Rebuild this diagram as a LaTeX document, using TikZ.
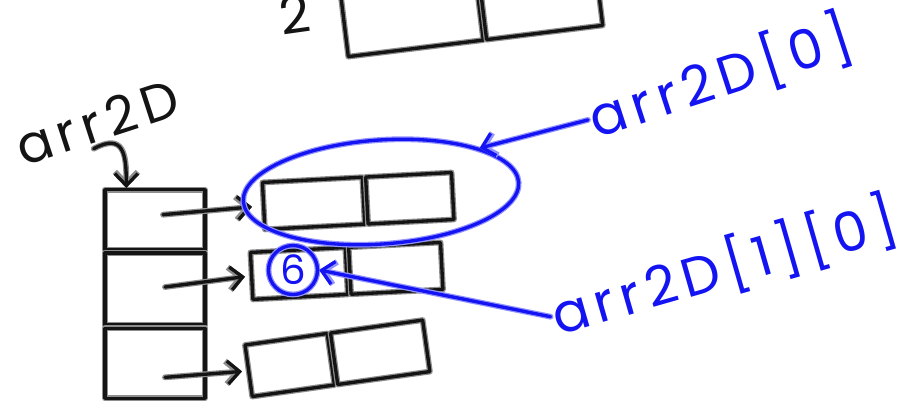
\documentclass[tikz,border=0pt]{standalone}
\usepackage{fontspec}
\setmainfont{Poppins}
\newfontfamily\hand[LetterSpace=12]{Poppins}
\usetikzlibrary{positioning, arrows.meta, calc, shapes.geometric}
\definecolor{penink}{HTML}{141414}
\definecolor{penhalo}{HTML}{8E8E8E}
\definecolor{penblue}{HTML}{1414F2}
\definecolor{bluehalo}{HTML}{9494FF}

\begin{document}
\begin{tikzpicture}[
  x=0.2mm, y=-0.2mm,
  line cap=round, line join=round,
  >={Straight Barb[length=2.4mm, width=4.6mm]},
  ink/.style  = {draw=penink, line width=1.9pt,
                 preaction={draw=penhalo, line width=3.3pt}},
  bink/.style = {draw=penblue, line width=1.9pt,
                 preaction={draw=bluehalo, line width=3.3pt}},
  cell/.style = {ink, rectangle, inner sep=0pt},
  blacktxt/.style = {font=\hand\fontsize{30}{34}\selectfont, text=penink, inner sep=1pt},
  bluetxt/.style  = {font=\hand\fontsize{31}{35}\selectfont, text=penblue, inner sep=1pt}
]
\useasboundingbox (0,0) rectangle (907,404);
\clip (0,0) rectangle (907,404);

% row cut off at the top
\node[cell, minimum width=27.2mm, minimum height=20mm, rotate=7, anchor=south]
  (topa) at (416,50) {};
\node[cell, minimum width=23.4mm, minimum height=20mm, rotate=7, right=0pt of topa]
  (topb) {};
\node[blacktxt, anchor=base, rotate=8] (idx2) at (298,33) {2};

% pointer array
\node[blacktxt, rotate=18] (arrname) at (97,122) {arr2D};
\node[cell, minimum width=20mm, minimum height=12mm, anchor=north] (ptr0) at (155,188) {};
\node[cell, minimum width=20mm, minimum height=14.4mm, below=0pt of ptr0] (ptr1) {};
\node[cell, minimum width=20mm, minimum height=14mm, below=0pt of ptr1] (ptr2) {};
\draw[ink, ->] ($(arrname.south)+(-10,6)$) .. controls +(30,-16) and +(0,-34) .. ($(ptr0.north west)+(23,0)$);

% rows
\node[cell, minimum width=20mm, minimum height=9.4mm, rotate=3, anchor=west] (r0a) at (262,206) {};
\node[cell, minimum width=17.2mm, minimum height=9.4mm, rotate=3, right=0pt of r0a] (r0b) {};
\node[cell, minimum width=19mm, minimum height=9.4mm, rotate=3, anchor=west] (r1a) at (250,276) {};
\node[cell, minimum width=18.4mm, minimum height=9.4mm, rotate=3, right=0pt of r1a] (r1b) {};
\node[cell, minimum width=16.6mm, minimum height=10.4mm, rotate=8, anchor=west] (r2a) at (247,371) {};
\node[cell, minimum width=18.6mm, minimum height=10.4mm, rotate=8, right=0pt of r2a] (r2b) {};

\draw[ink, ->, shorten >=2mm] ($(ptr0.center)+(8,-5)$) -- (r0a.west);
\draw[ink, ->, shorten >=1mm] ($(ptr1.center)+(10,-2)$) -- (r1a.west);
\draw[ink, ->, shorten >=1mm] ($(ptr2.center)+(10,14)$) -- (r2a.west);

% blue notes
\node[bink, ellipse, minimum width=55.2mm, minimum height=20.8mm, rotate=4] (sel0) at (381,192) {};
\node[bluetxt, rotate=18] (lbl0) at (720,77) {arr2D[0]};
\draw[bink, ->] (lbl0.west) -- (sel0.20);

\node[bink, circle, minimum size=9.8mm, inner sep=0pt, text=penblue,
      font=\fontsize{23}{25}\selectfont] (six) at (293,270) {6};
\node[bluetxt, rotate=16] (lbl1) at (724,267) {arr2D[1][0]};
\draw[bink, ->] (lbl1.west) -- (six.east);

\end{tikzpicture}
\end{document}
